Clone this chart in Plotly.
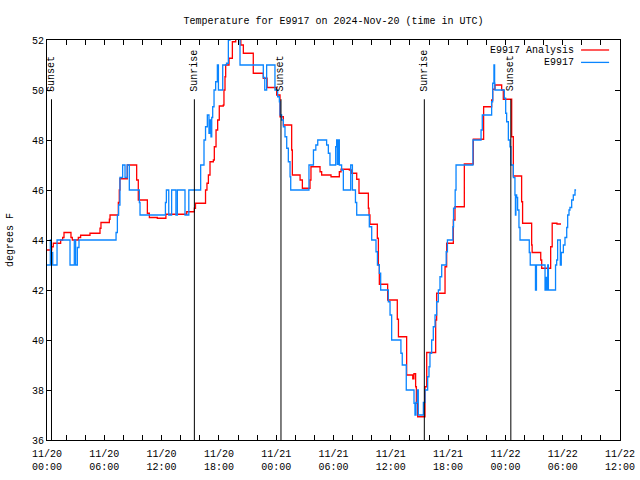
import pandas as pd
import plotly.graph_objects as go

BASE = pd.Timestamp("2024-11-20 00:00")

# E9917 Analysis (red): hours since 11/20 00:00 UTC, degrees F (step series)
analysis_hours = [0.0, 0.49, 0.66, 1.43, 1.64, 1.78, 2.51, 2.65, 3.28, 3.52, 4.5, 5.55, 5.65, 6.53, 6.6,
                  7.47, 7.57, 7.64, 8.41, 9.39, 9.56, 10.51, 10.72, 11.55, 12.45, 14.63, 15.43, 15.55,
                  16.6, 16.75, 16.9, 17.07, 17.42, 17.52, 17.7, 17.87, 18.04, 18.46, 18.53, 18.64, 18.71,
                  19.06, 19.41, 19.76, 20.3, 20.56, 21.6, 22.65, 23.05, 24.05, 24.4, 24.75, 25.62, 25.69,
                  26.5, 26.74, 27.54, 27.64, 28.59, 28.76, 29.74, 30.61, 30.79, 31.66, 31.9, 32.43, 32.67,
                  33.65, 33.72, 33.82, 34.59, 34.7, 34.8, 35.67, 36.68, 36.8, 37.66, 38.3, 38.42,
                  38.6, 38.68, 38.81, 39.58, 39.76, 40.7, 40.8, 41.68, 41.85, 42.55, 42.72, 43.7,
                  44.64, 45.72, 46.56, 46.67, 46.91, 47.61, 47.78, 48.66, 48.83, 49.7, 49.8, 50.75, 50.8,
                  51.7, 51.8, 52.74, 52.9, 53.4, 53.82]
analysis_temps = [43.6, 43.73, 43.87, 44.0, 44.1, 44.3, 44.1, 44.0, 44.1, 44.19, 44.27, 44.47, 44.7, 44.83, 45.0,
                  45.5, 46.0, 46.45, 47.0, 46.4, 45.6, 45.07, 44.9, 44.87, 45.03, 45.13, 45.27, 45.47,
                  46.0, 46.27, 46.6, 47.13, 47.2, 47.73, 48.4, 48.8, 49.36, 49.4, 50.0, 50.53, 51.0,
                  51.27, 51.93, 52.3, 51.8, 51.47, 50.67, 50.47, 50.1, 49.8, 48.93, 48.6, 47.6, 46.6,
                  46.4, 46.07, 46.4, 46.93, 46.73, 46.6, 46.53, 46.73, 46.83, 46.8, 46.67, 46.43, 45.87,
                  45.27, 45.0, 44.63, 44.07, 43.0, 42.23, 41.6, 40.83, 40.13, 38.6, 38.45, 38.65,
                  38.13, 37.47, 36.93, 38.13, 39.5, 40.8, 41.87, 42.93, 43.87, 44.8, 45.33, 47.04,
                  48.03, 49.33, 49.6, 50.03, 50.2, 50.0, 49.63, 48.13, 46.56, 45.53, 44.67, 43.8, 43.5,
                  43.2, 42.87, 43.73, 44.67, 44.64, 44.64]

# E9917 observations (blue)
obs_hours = [0.0, 0.35, 0.45, 0.6, 1.05, 2.41, 2.86, 3.0, 3.18, 3.35, 7.23, 7.37, 7.5, 7.64, 7.92, 8.17,
             8.4, 8.62, 9.67, 9.74, 12.4, 12.5, 12.75, 13.05, 13.5, 13.65, 14.45, 14.85,
             16.09, 16.44, 16.6, 16.79, 16.96, 17.07, 17.17, 17.25, 17.35, 17.49, 17.66,
             17.84, 17.95, 18.4, 18.8, 18.99, 19.16, 20.21, 22.65, 22.8, 23.0, 23.87, 24.15, 24.33,
             24.4, 24.57, 24.75, 24.92, 25.1, 25.27, 25.45, 25.52, 27.43, 27.9, 28.15, 28.35, 29.28,
             29.46, 29.63, 30.23, 30.33, 30.4, 30.5, 30.61, 30.85, 31.03, 31.8, 31.98, 32.3, 32.43,
             33.75, 34.0, 34.45, 34.6, 34.8, 34.94, 35.74, 35.92, 36.09, 37.06, 37.2, 37.62, 38.43,
             38.53, 38.64, 38.78, 38.88, 39.41, 39.58, 39.86, 40.0, 40.1, 40.28, 40.45, 40.63, 40.8,
             40.98, 41.15, 41.33, 41.8, 41.93, 42.5, 42.57, 42.74, 42.83, 44.6, 45.45, 45.58, 46.56,
             46.67, 46.8, 46.87, 46.9, 47.89, 48.03, 48.13, 48.31, 48.48, 48.58, 48.83, 49.0, 49.05,
             49.1, 49.18, 49.28, 49.42, 49.53, 50.5, 50.6, 51.15, 51.25, 52.15, 52.25, 52.32, 52.43,
             52.5, 53.25, 53.37, 53.47, 53.75, 53.85, 54.07, 54.24, 54.42, 54.52, 54.66, 54.76, 54.94,
             55.11, 55.29, 55.4]
obs_temps = [43.0, 44.0, 43.5, 43.0, 44.0, 43.0, 44.0, 43.0, 43.7, 44.0, 44.3, 45.0, 45.4, 46.5, 47.0, 46.5,
             47.0, 46.0, 45.5, 45.0, 45.5, 46.0, 45.0, 46.0, 45.0, 46.0, 45.0, 46.0,
             47.0, 48.0, 48.53, 49.0, 48.27, 48.8, 48.13, 48.9, 49.33, 50.0, 50.33,
             51.0, 50.0, 51.0, 51.07, 52.0, 52.3, 51.0, 50.5, 50.0, 51.0, 50.0, 49.73, 49.53,
             49.0, 48.8, 48.53, 48.13, 47.67, 47.13, 46.53, 46.0, 47.0, 47.6, 47.8, 48.0, 47.8,
             47.47, 47.0, 47.73, 48.0, 47.03, 48.0, 47.0, 46.8, 46.0, 47.0, 46.0, 45.5, 45.0,
             44.53, 44.0, 43.53, 43.0, 42.67, 42.0, 41.53, 41.0, 40.0, 39.47, 39.0, 38.0, 37.47,
             37.0, 37.5, 38.0, 37.0, 37.5, 38.0, 38.53, 38.93, 39.47, 40.0, 40.53, 41.0, 41.53,
             42.0, 42.53, 43.0, 43.53, 44.0, 44.53, 45.27, 46.0, 47.0, 48.0, 48.4, 49.0, 49.53,
             50.27, 51.0, 50.27, 50.0, 49.67, 49.07, 48.73, 48.0, 47.73, 47.0, 46.5, 45.8, 45.0,
             45.8, 45.7, 45.2, 44.5, 44.0, 43.5, 43.0, 42.0, 43.0, 42.0, 42.5, 42.0, 43.0,
             42.0, 43.0, 43.2, 44.0, 43.0, 43.5, 43.8, 44.1, 44.5, 45.0, 45.2, 45.3, 45.6,
             45.8, 46.0, 46.0]

# sun events (hours since 11/20 00:00 UTC)
event_hours = [0.47, 15.43, 24.5, 39.51, 48.57]
event_labels = ["Sunset", "Sunrise", "Sunset", "Sunrise", "Sunset"]

series_names = ["E9917 Analysis", "E9917"]
series_colors = ["#ff0000", "#0a85ff"]

y_min, y_max = 36, 52
x_start_h, x_end_h = 0, 60


def to_time(hours):
    return [BASE + pd.Timedelta(hours=h) for h in hours]


FONT = "Liberation Mono, DejaVu Sans Mono, monospace"

fig = go.Figure()
fig.add_trace(go.Scatter(x=to_time(analysis_hours), y=analysis_temps, mode="lines",
                         line=dict(color=series_colors[0], width=1.3, shape="hv"),
                         name=series_names[0], showlegend=False))
fig.add_trace(go.Scatter(x=to_time(obs_hours), y=obs_temps, mode="lines",
                         line=dict(color=series_colors[1], width=1.3, shape="hv"),
                         name=series_names[1], showlegend=False))

# sunrise / sunset markers
line_top = 49.63
for h, lab in zip(event_hours, event_labels):
    t = BASE + pd.Timedelta(hours=h)
    fig.add_shape(type="line", x0=t, x1=t, y0=y_min, y1=line_top, xref="x", yref="y",
                  line=dict(color="black", width=1), layer="above")
    fig.add_annotation(x=t, y=49.9, xref="x", yref="y", text=lab, textangle=-90,
                       showarrow=False, xanchor="center", yanchor="bottom",
                       font=dict(family=FONT, size=10, color="black"), borderpad=0)

# legend (gnuplot style: text then sample line)
leg_rows = [0.975, 0.944]
for name, color, yy in zip(series_names, series_colors, leg_rows):
    fig.add_annotation(x=0.9215, y=yy, xref="paper", yref="paper", text=name,
                       showarrow=False, xanchor="right", yanchor="middle",
                       font=dict(family=FONT, size=10, color="black"), borderpad=0)
    fig.add_shape(type="line", x0=0.932, x1=0.981, y0=yy, y1=yy, xref="paper", yref="paper",
                  line=dict(color=color, width=1.3))

# y axis title
fig.add_annotation(x=-0.0646, y=0.5, xref="paper", yref="paper", text="degrees F",
                   textangle=-90, showarrow=False, xanchor="center", yanchor="middle",
                   font=dict(family=FONT, size=10, color="black"))

fig.update_layout(
    width=640, height=480,
    margin=dict(l=47, r=20, t=40, b=40, autoexpand=False),
    paper_bgcolor="white", plot_bgcolor="white",
    font=dict(family=FONT, size=10, color="black"),
    title=dict(text="Temperature for E9917 on 2024-Nov-20 (time in UTC)",
               x=0.5, xref="paper", xanchor="center",
               y=1 - 20 / 480, yref="container", yanchor="middle",
               font=dict(family=FONT, size=10, color="black")),
    showlegend=False,
)
fig.update_xaxes(
    type="date", automargin=False,
    range=[BASE + pd.Timedelta(hours=x_start_h), BASE + pd.Timedelta(hours=x_end_h)],
    tick0=BASE, dtick=6 * 3600 * 1000, tickformat="%m/%d<br>%H:%M",
    ticks="inside", ticklen=5, tickcolor="black", tickwidth=1,
    minor=dict(dtick=2 * 3600 * 1000, ticks="inside", ticklen=5, tickcolor="black", showgrid=False),
    showline=True, linecolor="black", linewidth=1, mirror="allticks",
    showgrid=False, zeroline=False, ticklabelstandoff=4,
)
fig.update_yaxes(
    range=[y_min, y_max], dtick=2, tick0=36, automargin=False,
    ticks="inside", ticklen=5, tickcolor="black", tickwidth=1,
    showline=True, linecolor="black", linewidth=1, mirror="allticks",
    showgrid=False, zeroline=False,
)

# remove the default page margin so the 640x480 figure fills the window
fig.write_html("out.html", config={"displayModeBar": False},
               post_script="document.body.style.margin='0';document.body.style.overflow='hidden';")
